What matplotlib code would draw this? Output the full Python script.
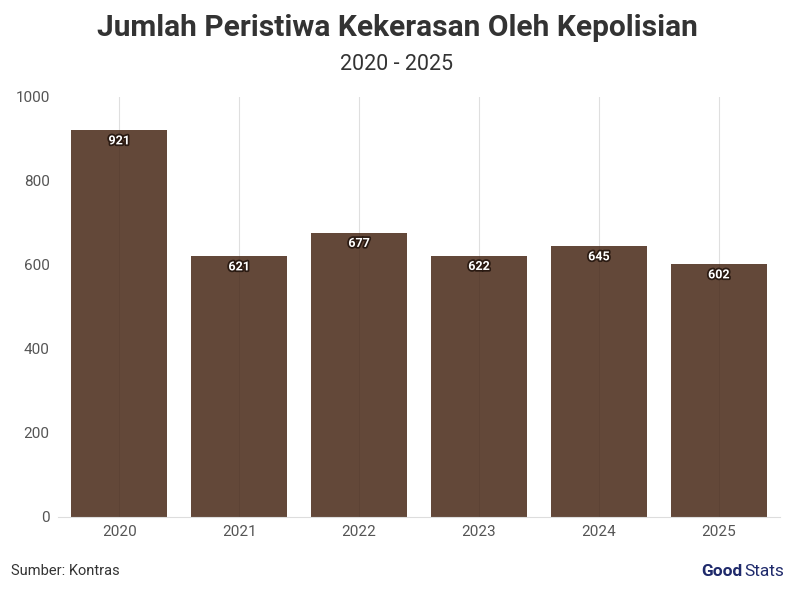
import matplotlib
matplotlib.use("Agg")
import matplotlib.pyplot as plt
import matplotlib.patheffects as pe

years = ["2020", "2021", "2022", "2023", "2024", "2025"]
values = [921, 621, 677, 622, 645, 602]
yticks = [0, 200, 400, 600, 800, 1000]

W, H = 794, 592
fig = plt.figure(figsize=(W/100, H/100), dpi=100)
ax = fig.add_axes([58/W, 1-517/H, 722/W, 420/H])
x = list(range(len(years)))
ax.bar(x, values, width=0.8, color="#5e4232", alpha=0.97, zorder=2)
for xi in x:
    ax.axvline(xi, color="#ebebeb", lw=0.8, zorder=1)
    ax.axvline(xi, color="#000000", lw=0.6, alpha=0.06, zorder=3)
for xi, v in zip(x, values):
    ax.text(xi, v - 10, str(v), ha="center", va="top", fontsize=9, fontweight="bold",
            color="white", family="Roboto", zorder=4,
            path_effects=[pe.withStroke(linewidth=2.5, foreground="#2a1a12")])
ax.set_xlim(-0.51, 5.51)
ax.set_ylim(0, 1000)
ax.set_xticks(x)
ax.set_xticklabels(years)
ax.set_yticks(yticks)
ax.tick_params(axis="both", length=0, labelsize=11, colors="#555555", pad=6)
for s in ["top", "right", "left"]:
    ax.spines[s].set_visible(False)
ax.spines["bottom"].set_color("#dddddd")
for lab in ax.get_xticklabels() + ax.get_yticklabels():
    lab.set_family("Roboto")
fig.text(0.5, 1-28/H, "Jumlah Peristiwa Kekerasan Oleh Kepolisian", ha="center", va="center",
         fontsize=21.5, fontweight="bold", color="#333333", family="Roboto")
fig.text(0.5, 1-64/H, "2020 - 2025", ha="center", va="center", fontsize=15.5,
         color="#333333", family="Roboto")
fig.text(11/W, 1-571/H, "Sumber: Kontras", ha="left", va="center", fontsize=10.5,
         color="#333333", family="Roboto")
fig.text(784/W, 1-572/H, "Stats", ha="right", va="center", fontsize=12.5,
         color="#1f2a6b", family="Roboto")
fig.text(742/W, 1-572/H, "Good", ha="right", va="center", fontsize=12.5,
         color="#1f2a6b", family="Roboto", fontweight="bold")
fig.savefig("out.png", dpi=100)
